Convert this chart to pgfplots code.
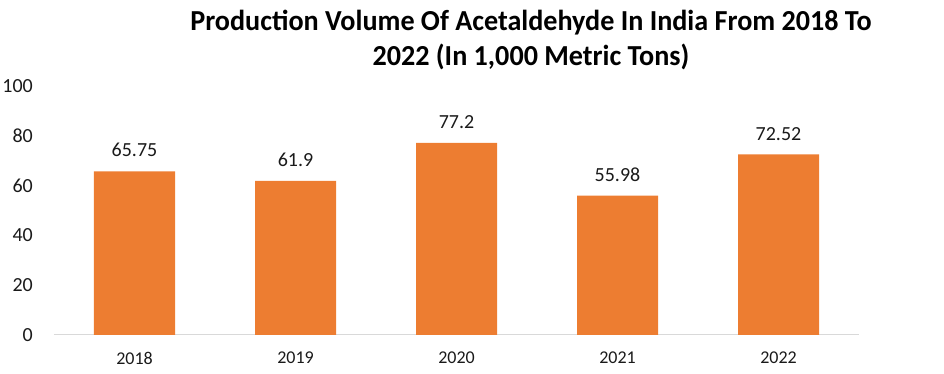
\documentclass[border=0pt]{standalone}
\usepackage{pgfplots}
\pgfplotsset{compat=1.18}
\usepackage{fontspec}
\setmainfont{Carlito}
\definecolor{barorange}{HTML}{ED7D31}
\definecolor{axisgray}{HTML}{D9D9D9}
\definecolor{txt}{HTML}{1A1A1A}
\begin{document}
\begin{tikzpicture}
\begin{axis}[
  name=ax,
  scale only axis,
  width=805pt, height=249pt,
  xmin=-0.5, xmax=4.5,
  ymin=0, ymax=100,
  ytick={0,20,40,60,80,100},
  xtick={0,1,2,3,4},
  xticklabels={2018,2019,2020,2021,2022},
  axis x line*=bottom, axis y line*=left,
  x axis line style={draw=axisgray, line width=1pt, -},
  y axis line style={draw=none},
  major tick length=0pt,
  /pgf/number format/assume math mode=true,
  yticklabel style={font=\fontsize{20}{24}\selectfont, text=txt, anchor=east, inner sep=0pt, xshift=-21pt},
  xticklabel style={font=\fontsize{18}{22}\selectfont, text=txt, anchor=north, inner sep=0pt, yshift=-17pt},
  ybar, bar width=81pt,
  nodes near coords,
  nodes near coords style={font=\fontsize{20}{24}\selectfont, text=txt, anchor=south, inner sep=0pt, yshift=14pt},
  point meta=explicit symbolic,
  clip=false,
]
\addplot[fill=barorange, draw=none] coordinates {
  (0,65.75) [65.75]
  (1,61.9) [61.9]
  (2,77.2) [77.2]
  (3,55.98) [55.98]
  (4,72.52) [72.52]
};
\node[font=\bfseries\fontsize{29}{35}\selectfont, align=center, text=black, anchor=center, xscale=0.97]
  at (axis description cs:0.5925,1.185) {Production Volume Of Acetaldehyde In India From 2018 To\\2022 (In 1,000 Metric Tons)};
\end{axis}
\pgfresetboundingbox
\useasboundingbox ([shift={(-54pt,-39pt)}]ax.south west) rectangle ([shift={(85pt,86pt)}]ax.north east);
\end{tikzpicture}
\end{document}
